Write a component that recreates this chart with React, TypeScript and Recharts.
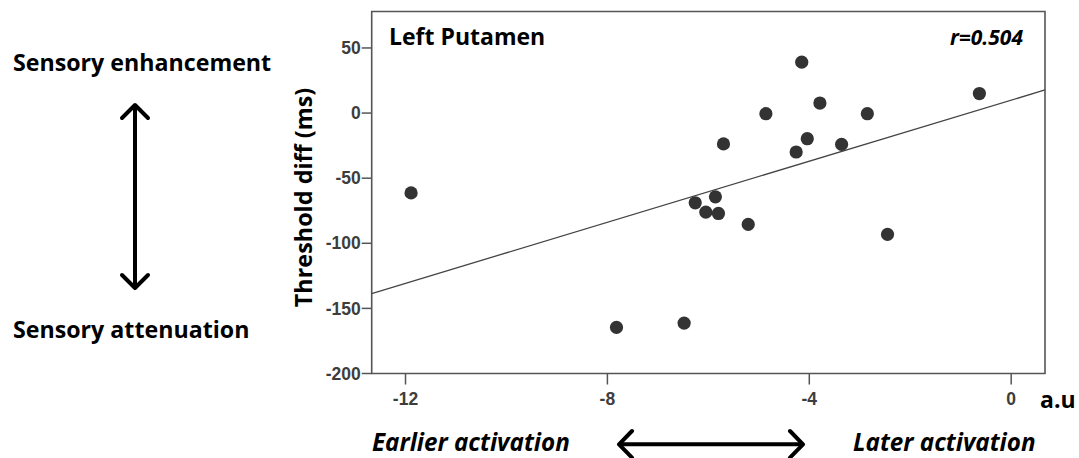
import React from "react"
import { ReferenceArea, ReferenceLine, Scatter, ScatterChart, XAxis, YAxis } from "recharts"

// activation timing (a.u) vs threshold difference (ms)
const activation = [
  -11.89, -7.82, -6.48, -6.26, -5.86, -6.05, -5.8, -5.21, -2.45,
  -4.15, -3.79, -4.86, -2.85, -5.7, -4.04, -4.26, -3.36, -0.63,
]
const thresholdDiff = [
  -61.3, -164.6, -161.3, -68.9, -64.3, -76.1, -77.1, -85.5, -93.2,
  39.1, 7.7, -0.5, -0.5, -23.7, -19.7, -29.9, -24.0, 15.0,
]
const xTicks = [-12, -8, -4, 0]
const yTicks = [-200, -150, -100, -50, 0, 50]
const xDomain = [-12.67, 0.67]
const yDomain = [-200, 78]
// fitted line, estimated from its ends in the picture
const fitIntercept = 9.9
const fitSlope = 11.72

const points = activation.map((x, i) => ({ x, y: thresholdDiff[i] }))

const W = 1079
const H = 458
const calibri = "'Open Sans', sans-serif"
const tickStyle = { fontSize: 17.5, fontWeight: 700, fill: "#3d3d3d", fontFamily: "'Liberation Sans', Arial, sans-serif" }

const Dot = (props: any) => <circle cx={props.cx} cy={props.cy} r={6.6} fill="#333333" />

function Annotations() {
  return (
    <svg width={W} height={H} style={{ position: "absolute", left: 0, top: 0, pointerEvents: "none" }}>
      <g fontFamily={calibri} fontWeight={700} fill="#000">
        <text x={13} y={71} fontSize={23.2}>Sensory enhancement</text>
        <text x={13} y={338} fontSize={23.2}>Sensory attenuation</text>
        <text x={312} y={197.5} fontSize={23.4} textAnchor="middle" transform="rotate(-90 312 197.5)">
          Threshold diff (ms)
        </text>
        <text x={389} y={45} fontSize={23}>Left Putamen</text>
        <text x={1023} y={45} fontSize={21} fontStyle="italic" textAnchor="end">r=0.504</text>
        <text x={1040} y={408} fontSize={23}>a.u</text>
        <text x={372} y={450.5} fontSize={24.2} fontStyle="italic">Earlier activation</text>
        <text x={853} y={450.5} fontSize={24.2} fontStyle="italic">Later activation</text>
      </g>
      <g stroke="#000" strokeWidth={4} fill="none" strokeLinecap="round" strokeLinejoin="round">
        <line x1={135} y1={107} x2={135} y2={286} />
        <polyline points="122,118 135,105 148,118" />
        <polyline points="122,275 135,288 148,275" />
        <line x1={620} y1={444.3} x2={802} y2={444.3} />
        <polyline points="632,431 619,444.3 632,457.6" />
        <polyline points="790,431 803,444.3 790,457.6" />
      </g>
    </svg>
  )
}

export default function App() {
  return (
    <div style={{ position: "absolute", left: 0, top: 0, width: W, height: H, background: "#fff" }}>
      <ScatterChart width={W} height={H} margin={{ top: 11.5, right: 34, bottom: 0, left: 0 }}>
        <XAxis
          type="number"
          dataKey="x"
          domain={xDomain}
          ticks={xTicks}
          allowDataOverflow
          height={84.5}
          axisLine={false}
          tickLine={{ stroke: "#555", strokeWidth: 1.5 }}
          tickSize={11}
          tickMargin={8}
          tick={tickStyle}
        />
        <YAxis
          type="number"
          dataKey="y"
          domain={yDomain}
          ticks={yTicks}
          allowDataOverflow
          width={371.7}
          axisLine={false}
          tickLine={{ stroke: "#555", strokeWidth: 1.5 }}
          tickSize={10}
          tickMargin={1}
          tick={tickStyle}
        />
        <ReferenceArea
          x1={xDomain[0]}
          x2={xDomain[1]}
          y1={yDomain[0]}
          y2={yDomain[1]}
          fill="none"
          stroke="#555"
          strokeWidth={1.6}
          ifOverflow="visible"
        />
        <ReferenceLine
          segment={[
            { x: xDomain[0], y: fitIntercept + fitSlope * xDomain[0] },
            { x: xDomain[1], y: fitIntercept + fitSlope * xDomain[1] },
          ]}
          stroke="#444"
          strokeWidth={1.3}
          ifOverflow="visible"
        />
        <Scatter data={points} shape={Dot} isAnimationActive={false} />
      </ScatterChart>
      <Annotations />
    </div>
  )
}
